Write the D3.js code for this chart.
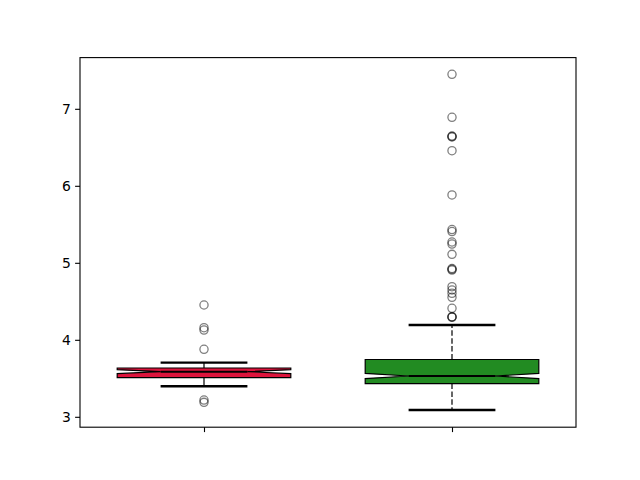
<!DOCTYPE html>
<html><head><meta charset="utf-8">
<script src="https://cdn.jsdelivr.net/npm/d3@7"></script>
<style>body{margin:0;background:#fff}svg{display:block}</style>
</head><body>
<script>
// ---- data ----
const positions = [1, 2];
const q1     = [3.510, 3.432];
const med    = [3.586, 3.530];
const q3     = [3.634, 3.744];
const whislo = [3.396, 3.088];
const whishi = [3.703, 4.192];
const cilo   = [3.560, 3.497];
const cihi   = [3.612, 3.563];
const fliers = [
  [4.452, 4.157, 4.127, 3.877, 3.218, 3.188],
  [7.448, 6.890, 6.647, 6.640, 6.634, 6.456, 5.881, 5.432, 5.406, 5.270, 5.244,
   5.110, 4.926, 4.916, 4.906, 4.690, 4.647, 4.604, 4.552, 4.409, 4.300, 4.296, 4.292]
];
const yTicks = [3, 4, 5, 6, 7];
const boxColors = ["crimson", "forestgreen"];
const whiskerDash = [null, "5.5,2.4"];

const W = 640, H = 480;
const L = 80, R = 576, T = 57.6, B = 427.2;
const svg = d3.select("body").append("svg").attr("width", W).attr("height", H);

const x = d3.scaleLinear().domain([0.5, 2.5]).range([L, R]);
const y = d3.scaleLinear().domain([2.865, 7.665]).range([B, T]);
const bw = 0.35, cw = 0.175, nw = 0.175;

const g = svg.append("g");
positions.forEach((p, i) => {
  const xl = x(p - bw), xr = x(p + bw), nl = x(p - nw), nr = x(p + nw);
  const pts = [[xl, y(q1[i])], [xr, y(q1[i])], [xr, y(cilo[i])], [nr, y(med[i])], [xr, y(cihi[i])],
               [xr, y(q3[i])], [xl, y(q3[i])], [xl, y(cihi[i])], [nl, y(med[i])], [xl, y(cilo[i])], [xl, y(q1[i])]];
  // whiskers
  [[q1[i], whislo[i]], [q3[i], whishi[i]]].forEach(([a, b]) => {
    g.append("line").attr("x1", x(p)).attr("x2", x(p)).attr("y1", y(a)).attr("y2", y(b))
      .attr("stroke", "#000").attr("stroke-width", 1.2)
      .attr("stroke-dasharray", whiskerDash[i]);
  });
  // caps
  [whislo[i], whishi[i]].forEach(v => {
    g.append("line").attr("x1", x(p - cw)).attr("x2", x(p + cw)).attr("y1", y(v)).attr("y2", y(v))
      .attr("stroke", "#000").attr("stroke-width", 2.4);
  });
  // box
  g.append("path").attr("d", d3.line()(pts) + "Z")
    .attr("fill", boxColors[i]).attr("stroke", "#000").attr("stroke-width", 1.2)
    .attr("stroke-linejoin", "miter");
  // median
  g.append("line").attr("x1", nl).attr("x2", nr).attr("y1", y(med[i])).attr("y2", y(med[i]))
    .attr("stroke", "#000").attr("stroke-width", 2);
  // fliers
  g.selectAll(null).data(fliers[i]).enter().append("circle")
    .attr("cx", x(p)).attr("cy", d => y(d)).attr("r", 4.1)
    .attr("fill", "none").attr("stroke", "#000").attr("stroke-opacity", 0.5).attr("stroke-width", 1.3);
});

// axes frame
svg.append("rect").attr("x", L).attr("y", T).attr("width", R - L).attr("height", B - T)
  .attr("fill", "none").attr("stroke", "#000").attr("stroke-width", 1.1);

const yAxis = svg.append("g").attr("transform", `translate(${L},0)`)
  .call(d3.axisLeft(y).tickValues(yTicks).tickFormat(d3.format("d")).tickSize(4.9).tickPadding(4.2));
const xAxis = svg.append("g").attr("transform", `translate(0,${B})`)
  .call(d3.axisBottom(x).tickValues(positions).tickFormat("").tickSize(4.9));
[yAxis, xAxis].forEach(a => {
  a.select(".domain").remove();
  a.selectAll(".tick line").attr("stroke", "#000").attr("stroke-width", 1.1);
  a.selectAll("text").attr("fill", "#000").style("font-family", "DejaVu Sans").style("font-size", "13.9px");
});
</script>
</body></html>
